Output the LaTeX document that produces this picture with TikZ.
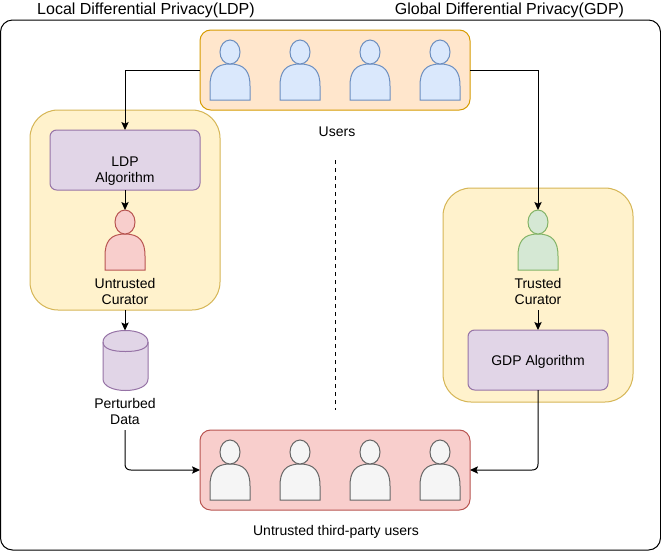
\documentclass[tikz,border=0pt]{standalone}
\usepackage{fontspec}
\setmainfont{Liberation Sans}
\usetikzlibrary{arrows.meta}
\definecolor{blueF}{HTML}{DAE8FC}\definecolor{blueD}{HTML}{6C8EBF}
\definecolor{orangeF}{HTML}{FFE6CC}\definecolor{orangeD}{HTML}{D79B00}
\definecolor{yellowF}{HTML}{FFF2CC}\definecolor{yellowD}{HTML}{D6B656}
\definecolor{purpleF}{HTML}{E1D5E7}\definecolor{purpleD}{HTML}{9673A6}
\definecolor{redF}{HTML}{F8CECC}\definecolor{redD}{HTML}{B85450}
\definecolor{greenF}{HTML}{D5E8D4}\definecolor{greenD}{HTML}{82B366}
\definecolor{greyF}{HTML}{F5F5F5}\definecolor{greyD}{HTML}{666666}
\tikzset{
  px/.style={x=0.75pt,y=-0.75pt},
  box/.style={rectangle,inner sep=0pt,outer sep=0pt,line width=0.75pt,anchor=north west},
  label/.style={font=\fontsize{10.5}{12}\selectfont,align=center,inner sep=0pt,text=black},
  title/.style={font=\fontsize{12}{14}\selectfont,inner sep=0pt,text=black},
  arr/.style={line width=0.75pt,-{Stealth[length=6pt,width=5.5pt,inset=1.2pt]}},
  blueP/.style={fill=blueF,draw=blueD},
  redP/.style={fill=redF,draw=redD},
  greenP/.style={fill=greenF,draw=greenD},
  greyP/.style={fill=greyF,draw=greyD},
}
% person: name, left x, top y, style
\newcommand{\personfig}[4]{%
  \node[inner sep=0pt,outer sep=0pt,minimum width=30pt,minimum height=45pt,anchor=north west] (#1) at (#2,#3) {};
  \begin{scope}[shift={(#2,#3)},line width=0.75pt]
    \path[#4] (0,60) -- (0,46) .. controls (0,32) and (5,24) .. (20,24) .. controls (35,24) and (40,32) .. (40,46) -- (40,60) -- cycle;
    \path[#4] (20,24) .. controls (14,24) and (10,18.5) .. (10,12) .. controls (10,5.4) and (14.5,0) .. (20,0) .. controls (25.5,0) and (30,5.4) .. (30,12) .. controls (30,18.5) and (26,24) .. (20,24) -- cycle;
  \end{scope}%
}
\begin{document}
\begin{tikzpicture}[px]
\useasboundingbox (0,0) rectangle (661,551);
\fill[white] (0,0) rectangle (661,551);
\node[box,draw=black,fill=white,minimum width=495pt,minimum height=397.5pt,rounded corners=9pt] (outer) at (0.5,20) {};
\node[box,draw=orangeD,fill=orangeF,minimum width=202.5pt,minimum height=60pt,rounded corners=8pt] (users) at (200,30) {};
\node[box,draw=yellowD,fill=yellowF,minimum width=142.5pt,minimum height=150pt,rounded corners=21pt] (ldpwrap) at (30,110) {};
\node[box,draw=yellowD,fill=yellowF,minimum width=142.5pt,minimum height=160.5pt,rounded corners=21pt] (gdpwrap) at (443,188) {};
\node[box,draw=purpleD,fill=purpleF,minimum width=112.5pt,minimum height=45pt,rounded corners=5pt] (ldp) at (50,130) {};
\node[box,draw=purpleD,fill=purpleF,minimum width=105pt,minimum height=45pt,rounded corners=5pt] (gdp) at (468,330) {};
\node[box,draw=redD,fill=redF,minimum width=202.5pt,minimum height=60pt,rounded corners=8pt] (third) at (200,430) {};
\node[label] (ldptext) at (125,171) {LDP\\Algorithm};
\node[label] (gdptext) at (538,362) {GDP Algorithm};
\personfig{u1}{210}{40}{blueP}
\personfig{u2}{280}{40}{blueP}
\personfig{u3}{350}{40}{blueP}
\personfig{u4}{420}{40}{blueP}
\personfig{tp1}{210}{440}{greyP}
\personfig{tp2}{280}{440}{greyP}
\personfig{tp3}{350}{440}{greyP}
\personfig{tp4}{420}{440}{greyP}
\personfig{ucur}{105}{210}{redP}
\personfig{tcur}{518}{210}{greenP}
% cylinder
\node[inner sep=0pt,outer sep=0pt,minimum width=33.75pt,minimum height=45pt,anchor=north west] (db) at (103,330.5) {};
\begin{scope}[line width=0.75pt]
\path[fill=purpleF,draw=purpleD] (103,342) .. controls (103,335) and (113,330.5) .. (125.5,330.5) .. controls (138,330.5) and (148,335) .. (148,342) -- (148,379) .. controls (148,386) and (138,390.5) .. (125.5,390.5) .. controls (113,390.5) and (103,386) .. (103,379) -- cycle;
\path[draw=purpleD] (103,342) .. controls (103,349) and (113,351.5) .. (125.5,351.5) .. controls (138,351.5) and (148,349) .. (148,342);
\end{scope}
\node[title] (ttl) at (146,10) {Local Differential Privacy(LDP)};
\node[title] (ttg) at (509.5,10) {Global Differential Privacy(GDP)};
\node[label] (ulabel) at (337,132) {Users};
\node[label] (uclabel) at (125,291) {Untrusted\\Curator};
\node[label] (tclabel) at (538,291) {Trusted\\Curator};
\node[label] (pdlabel) at (125,411) {Perturbed\\Data};
\node[label] (tplabel) at (336,532) {Untrusted third-party users};
\coordinate (dashA) at (335,160);
\coordinate (dashB) at (335,410);
\coordinate (tstart) at (538,310);
\coordinate (pstart) at (125,430);
\draw[line width=0.75pt,dash pattern=on 3pt off 3pt] (dashA) -- (dashB);
\draw[arr] (users.west |- 0,70) -- (125,70) -- (125,130);
\draw[arr] (users.east |- 0,70) -- (538,70) -- (tcur.north);
\draw[arr] (125,190) -- (ucur.north);
\draw[arr] (125,310) -- (125,330.5);
\draw[arr] (tstart) -- (538,330);
\draw[arr] (pstart) -- (125,464) .. controls (125,468) and (127,470) .. (131,470) -- (third.west |- 0,470);
\draw[arr] (538,390) -- (538,464) .. controls (538,468) and (536,470) .. (532,470) -- (third.east |- 0,470);
\end{tikzpicture}
\end{document}
